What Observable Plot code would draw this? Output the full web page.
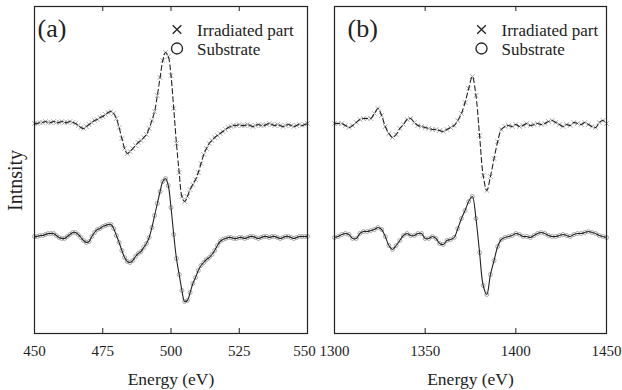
<!DOCTYPE html>
<html>
<head>
<meta charset="utf-8">
<script src="https://cdn.jsdelivr.net/npm/d3@7"></script>
<script src="https://cdn.jsdelivr.net/npm/@observablehq/plot@0.6"></script>
<style>
  html, body { margin: 0; padding: 0; background: #fff; }
  #wrap { position: relative; width: 622px; height: 390px; overflow: hidden; }
  #wrap svg { position: absolute; top: 0; }
  #wrap svg, #wrap svg text { font-family: "Liberation Serif", "Times New Roman", serif !important; }
</style>
</head>
<body>
<div id="wrap"></div>
<script>
// Panel (a): energies 450..550 eV, 1 eV step; derivative intensity (a.u.)
const energyA = d3.range(450, 551, 1);
const irradiatedA = [0,0,1,1,2,1,1,2,1,1, 2,1,1,2,1,0,-2,-4,-5,-3, -1,1,3,4,6,7,9,11,12,10, 5,-4,-15,-25,-30,-28,-25,-22,-19,-17, -14,-11,-5,3,12,28,46,63,71,67, 48,15,-20,-49,-73,-78,-73,-66,-61,-56, -49,-40,-31,-25,-20,-17,-14,-12,-10,-8, -6,-4,-3,-2,-2,-1,-2,-2,-1,-2, -3,-2,-1,-2,-2,-1,0,-1,-2,-1, -2,-3,-2,-1,-2,-3,-2,-1,-2,-1, 0];
const substrateA = [0,0,1,1,2,3,3,3,1,-1, -2,-2,0,2,4,4,2,-1,-4,-6, -5,0,4,7,8,10,11,12,12,8, 1,-6,-14,-21,-25,-26,-24,-20,-17,-15, -11,-7,-1,9,21,33,45,55,58,51, 29,2,-22,-38,-54,-65,-64,-56,-47,-41, -34,-29,-26,-23,-21,-18,-14,-9,-5,-3, -2,-1,-1,-2,-2,-1,-1,-2,-1,0, 0,-1,-2,-1,0,0,-1,0,0,-1, -2,-1,0,0,-1,-2,-1,0,0,0, 0];

// Panel (b): energies 1300..1450 eV, 2 eV step
const energyB = d3.range(1300, 1451, 2);
const irradiatedB = [0,0,0,-2,-4,-2,1,4,5,5, 5,10,15,8,-3,-10,-14,-11,-5,-1, 4,5,1,-2,-3,-4,-5,-6,-6,-7, -8,-6,-4,-2,3,10,21,35,47,28, -12,-52,-67,-53,-35,-18,-6,-3,-2,-3, -1,-3,-2,0,-2,-1,0,-1,0,2, 3,1,-1,-3,-1,-2,1,0,-1,1, -1,-3,-4,1,3,0];
const substrateB = [-1,0,2,3,2,-2,-2,3,5,5, 6,7,9,7,0,-9,-13,-9,-4,1, 3,1,1,3,3,-2,-2,0,-2,-7, -8,-4,-3,-1,8,18,26,35,40,18, -16,-49,-58,-38,-24,-10,-3,-1,0,1, 3,2,0,0,-1,1,3,4,3,1, 0,0,1,2,1,0,2,3,3,4, 5,4,3,1,0,-1];

const ticksA = [450, 475, 500, 525];
const lastTickA = [550];
const innerTicksA = [475, 500, 525];
const ticksB = [1300, 1350, 1400, 1450];
const innerTicksB = [1350, 1400];

const seriesNames = ["Irradiated part", "Substrate"];
const panelLabels = ["(a)", "(b)"];
const xLabel = "Energy (eV)";
const yLabel = "Intnsity";

const OFFSET = 113;          // vertical offset of the irradiated spectrum
const Y_DOMAIN = [-97, 230];
const FONT = "'Liberation Serif', 'Times New Roman', serif";

function rows(energy, values, offset) {
  return energy.map((e, i) => ({e, v: values[i] + offset}));
}

function panel({energy, irr, sub, ticks, lastTicks, inner, domain, width, mLeft, mRight, label, labelDx, legDx, showY}) {
  const irrRows = rows(energy, irr, OFFSET);
  const subRows = rows(energy, sub, 0);
  const H = 390, mTop = 6, mBottom = 57;
  const ph = H - mTop - mBottom;
  const marks = [
    Plot.dot(irrRows, {x: "e", y: "v", symbol: "times", r: 2.2, stroke: "#a8a8a8", strokeWidth: 1}),
    Plot.dot(subRows, {x: "e", y: "v", symbol: "circle", r: 2, stroke: "#a8a8a8", strokeWidth: 1, fill: "none"}),
    Plot.line(irrRows, {x: "e", y: "v", stroke: "#222", strokeWidth: 1.1, strokeDasharray: "5,3", curve: "catmull-rom"}),
    Plot.line(subRows, {x: "e", y: "v", stroke: "#222", strokeWidth: 1.1, curve: "catmull-rom"}),
    Plot.tickX(inner, {x: d => d, stroke: "#222", insetTop: ph - 5}),
    Plot.tickX(inner, {x: d => d, stroke: "#222", insetBottom: ph - 5}),
    Plot.frame({stroke: "#222", strokeWidth: 1.2}),
    Plot.axisX({ticks, tickSize: 0, tickPadding: 12, tickFormat: d => String(d), fontSize: 15, fontFamily: FONT, label: null}),
    Plot.text([xLabel], {frameAnchor: "bottom", dy: 46, fontSize: 17.5, fontFamily: FONT, lineAnchor: "middle", fill: "#222"}),
    Plot.text([label], {frameAnchor: "top-left", dx: labelDx, dy: 22, fontSize: 26, fontFamily: FONT, textAnchor: "start", lineAnchor: "middle", fill: "#222"}),
    Plot.dot([0], {frameAnchor: "top-left", dx: legDx, dy: 23, symbol: "times", r: 4, stroke: "#222", strokeWidth: 1.3}),
    Plot.dot([0], {frameAnchor: "top-left", dx: legDx, dy: 42, symbol: "circle", r: 5.5, stroke: "#222", strokeWidth: 1.3, fill: "none"}),
    Plot.text([seriesNames[0]], {frameAnchor: "top-left", dx: legDx + 20, dy: 23.6, fontSize: 17, fontFamily: FONT, textAnchor: "start", lineAnchor: "middle", fill: "#222"}),
    Plot.text([seriesNames[1]], {frameAnchor: "top-left", dx: legDx + 20, dy: 42.6, fontSize: 17, fontFamily: FONT, textAnchor: "start", lineAnchor: "middle", fill: "#222"})
  ];
  if (lastTicks) {
    marks.push(Plot.axisX({ticks: lastTicks, tickSize: 0, tickPadding: 12, tickFormat: d => String(d), fontSize: 15, fontFamily: FONT, dx: -3, label: null}));
  }
  if (showY) {
    marks.push(Plot.text([yLabel], {frameAnchor: "left", dx: -19, dy: 41, rotate: -90, fontSize: 20, fontFamily: FONT, lineAnchor: "middle", fill: "#222"}));
  }
  return Plot.plot({
    width, height: H,
    marginTop: mTop, marginBottom: mBottom, marginLeft: mLeft, marginRight: mRight,
    style: {fontFamily: FONT, color: "#222", background: "transparent", overflow: "visible"},
    x: {domain, label: null},
    y: {domain: Y_DOMAIN, axis: null},
    marks
  });
}

const wrap = document.getElementById("wrap");
const a = panel({energy: energyA, irr: irradiatedA, sub: substrateA, ticks: ticksA, lastTicks: lastTickA, inner: innerTicksA, domain: [450, 550],
  width: 320, mLeft: 34, mRight: 13, label: panelLabels[0], labelDx: 3, legDx: 142.5, showY: true});
a.style.left = "0px";
const b = panel({energy: energyB, irr: irradiatedB, sub: substrateB, ticks: ticksB, lastTicks: null, inner: innerTicksB, domain: [1300, 1450],
  width: 312, mLeft: 24, mRight: 16, label: panelLabels[1], labelDx: 13, legDx: 147, showY: false});
b.style.left = "310px";
wrap.appendChild(a);
wrap.appendChild(b);
</script>
</body>
</html>
